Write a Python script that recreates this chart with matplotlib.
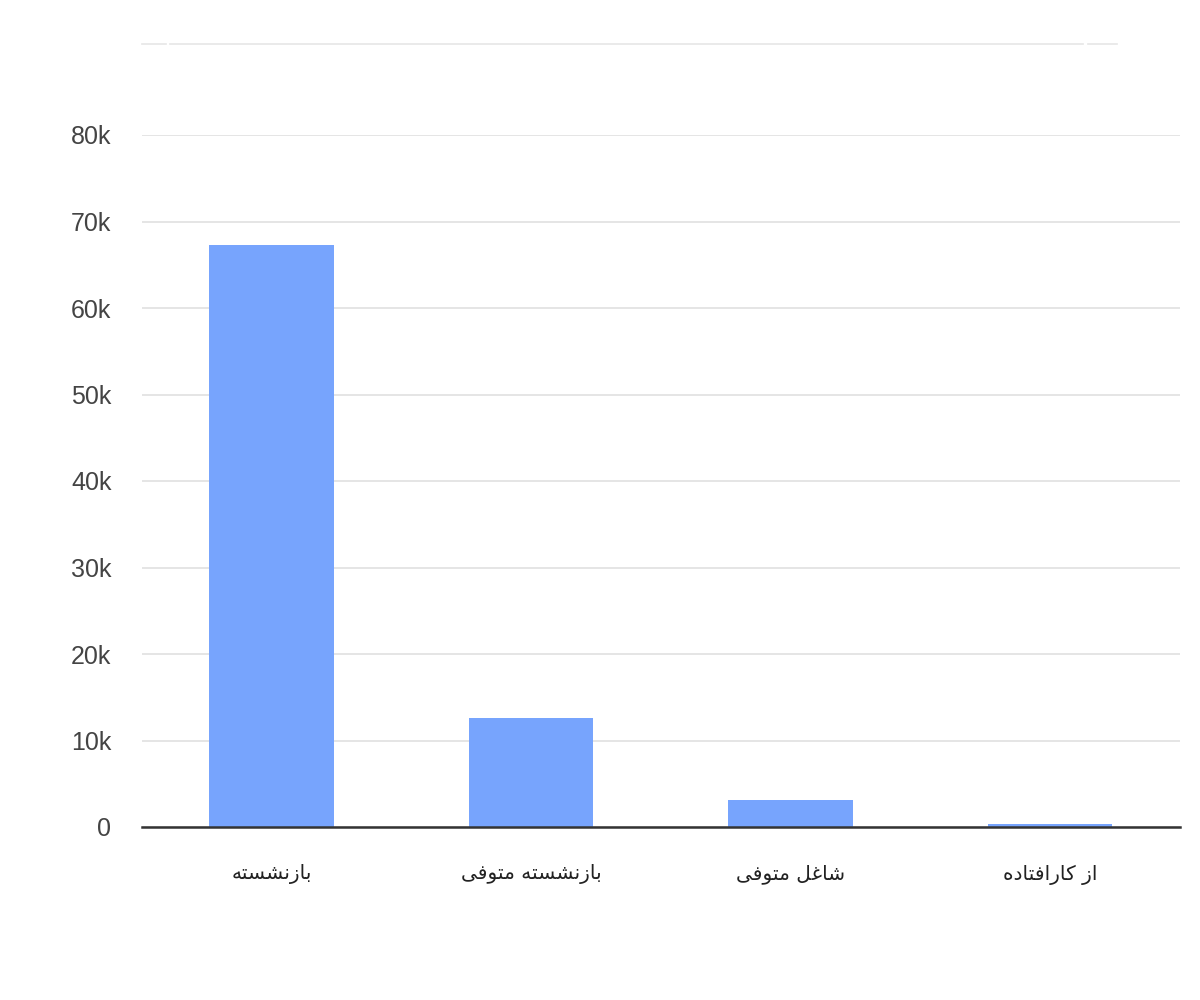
import matplotlib
matplotlib.use("Agg")
import matplotlib.pyplot as plt
from matplotlib.ticker import FuncFormatter
from matplotlib.lines import Line2D

# داده‌ها
categories = ["بازنشسته", "بازنشسته متوفی", "شاغل متوفی", "از کارافتاده"]
values = [67300, 12600, 3100, 350]
yticks = [0, 10000, 20000, 30000, 40000, 50000, 60000, 70000, 80000]

# شکل‌دهی ساده حروف فارسی (isolated, final, initial, medial)
FORMS = {
    "\u0627": (0xFE8D, 0xFE8E, None, None),
    "\u0628": (0xFE8F, 0xFE90, 0xFE91, 0xFE92),
    "\u062A": (0xFE95, 0xFE96, 0xFE97, 0xFE98),
    "\u062F": (0xFEA9, 0xFEAA, None, None),
    "\u0631": (0xFEAD, 0xFEAE, None, None),
    "\u0632": (0xFEAF, 0xFEB0, None, None),
    "\u0633": (0xFEB1, 0xFEB2, 0xFEB3, 0xFEB4),
    "\u0634": (0xFEB5, 0xFEB6, 0xFEB7, 0xFEB8),
    "\u063A": (0xFECD, 0xFECE, 0xFECF, 0xFED0),
    "\u0641": (0xFED1, 0xFED2, 0xFED3, 0xFED4),
    "\u0644": (0xFEDD, 0xFEDE, 0xFEDF, 0xFEE0),
    "\u0645": (0xFEE1, 0xFEE2, 0xFEE3, 0xFEE4),
    "\u0646": (0xFEE5, 0xFEE6, 0xFEE7, 0xFEE8),
    "\u0647": (0xFEE9, 0xFEEA, 0xFEEB, 0xFEEC),
    "\u0648": (0xFEED, 0xFEEE, None, None),
    "\u06A9": (0xFB8E, 0xFB8F, 0xFB90, 0xFB91),
    "\u06CC": (0xFBFC, 0xFBFD, 0xFBFE, 0xFBFF),
}


def shape(text):
    out = []
    n = len(text)
    for i, ch in enumerate(text):
        if ch not in FORMS:
            out.append(ch)
            continue
        f = FORMS[ch]
        prev = text[i - 1] if i > 0 else None
        nxt = text[i + 1] if i + 1 < n else None
        join_prev = prev in FORMS and FORMS[prev][2] is not None
        join_next = f[2] is not None and nxt in FORMS
        if join_prev and join_next:
            code = f[3]
        elif join_prev:
            code = f[1]
        elif join_next:
            code = f[2]
        else:
            code = f[0]
        out.append(chr(code))
    return "".join(out)[::-1]


fig = plt.figure(figsize=(12, 10), dpi=100)
ax = fig.add_axes([0.1183, 0.173, 0.865, 0.692])

x = range(len(categories))
ax.bar(x, values, width=0.48, color="#77a4fd", zorder=3)

ax.set_xlim(-0.5, len(categories) - 0.5)
ax.set_ylim(0, 80000)
ax.set_yticks(yticks)
ax.yaxis.set_major_formatter(FuncFormatter(lambda v, p: "0" if v == 0 else f"{int(v / 1000)}k"))
ax.grid(axis="y", color="#e0e0e0", lw=1.2, zorder=0)
ax.axhline(0, color="#333333", lw=1.8, zorder=4, clip_on=False)

for s in ax.spines.values():
    s.set_visible(False)

ax.tick_params(axis="y", length=0, pad=22, labelsize=18, labelcolor="#444444")
for t in ax.get_yticklabels():
    t.set_fontfamily(["Liberation Sans", "DejaVu Sans"])

ax.set_xticks(list(x))
ax.set_xticklabels([shape(c) for c in categories], fontsize=14.5, color="#222222",
                   family=["DejaVu Sans"])
ax.tick_params(axis="x", length=0, pad=27)

# خط کم‌رنگ بالای نمودار
for x0, x1 in [(142, 166), (170, 1083), (1088, 1117)]:
    fig.add_artist(Line2D([x0 / 1200, x1 / 1200], [1 - 44 / 1000, 1 - 44 / 1000],
                          color="#e6e6e6", lw=1.2))

fig.savefig("out.png", dpi=100, facecolor="white")
